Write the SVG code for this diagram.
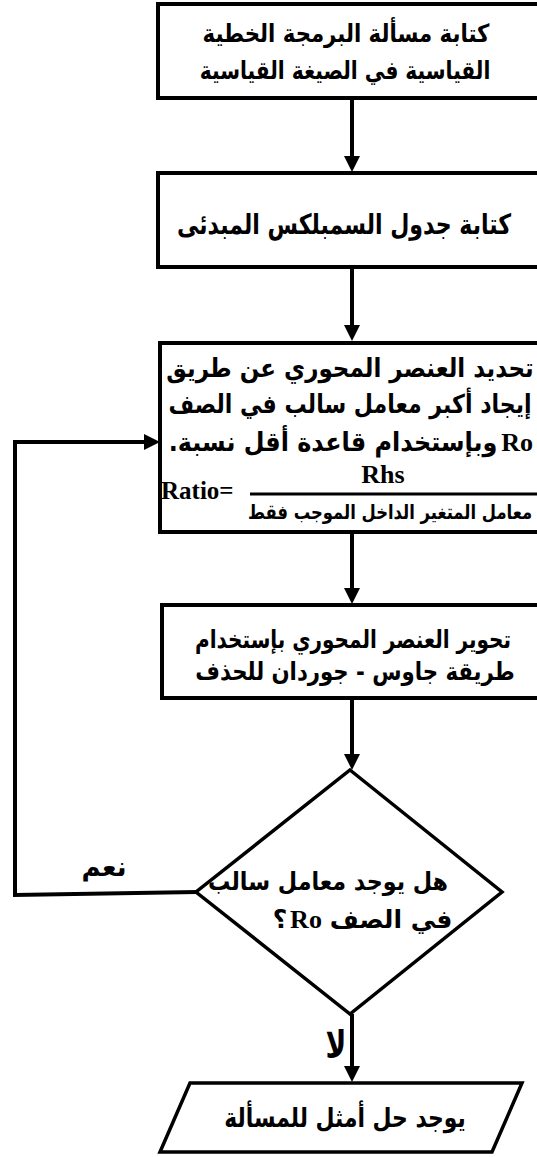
<svg xmlns="http://www.w3.org/2000/svg" width="537" height="1157" viewBox="0 0 537 1157">
<style>
.box{fill:#fff;stroke:#000;stroke-width:4}
.dia{fill:#fff;stroke:#000;stroke-width:3.5}
.ln{fill:none;stroke:#000;stroke-width:4}
.ah{fill:#000}
.ar{font-family:'DejaVu Sans','Noto Sans',sans-serif;font-weight:bold;fill:#000;direction:rtl;text-anchor:middle}
.lat{font-family:'Liberation Serif','Times New Roman',serif;font-weight:bold;fill:#000}
</style>
<rect width="537" height="1157" fill="#fff"/>
<g id="connectors">
<line class="ln" x1="352" y1="98" x2="352" y2="158"/>
<polygon class="ah" points="344,156 360,156 352,172"/>
<line class="ln" x1="352" y1="267" x2="352" y2="327"/>
<polygon class="ah" points="344,325 360,325 352,341"/>
<line class="ln" x1="352" y1="532" x2="352" y2="590"/>
<polygon class="ah" points="344,588 360,588 352,604"/>
<line class="ln" x1="352" y1="698" x2="352" y2="756"/>
<polygon class="ah" points="344,754 360,754 352,770"/>
<line class="ln" x1="352" y1="1014" x2="352" y2="1068"/>
<polygon class="ah" points="344,1066 360,1066 352,1082"/>
<polyline class="ln" points="197,892 15,895 15,442 146,442"/>
<polygon class="ah" points="144,434 144,450 160,442"/>
<text class="ar" x="104" y="876" font-size="26">نعم</text>
<text class="ar" transform="translate(336,1058) scale(1,1.35)" x="0" y="0" font-size="28">لا</text>
</g>
<g id="n1">
<rect class="box" x="158" y="4" width="450" height="94"/>
<text class="ar" transform="translate(346,42) scale(0.85,1)" x="0" y="0" font-size="25">كتابة مسألة البرمجة الخطية</text>
<text class="ar" transform="translate(345,79) scale(0.806,1)" x="0" y="0" font-size="25">القياسية في الصيغة القياسية</text>
</g>
<g id="n2">
<rect class="box" x="158" y="173" width="450" height="94"/>
<text class="ar" transform="translate(344,234) scale(0.788,1)" x="0" y="0" font-size="28">كتابة جدول السمبلكس المبدئى</text>
</g>
<g id="n3">
<rect class="box" x="160" y="343" width="450" height="189"/>
<text class="ar" transform="translate(350,377) scale(0.885,1)" x="0" y="0" font-size="26">تحديد العنصر المحوري عن طريق</text>
<text class="ar" transform="translate(350,413) scale(0.85,1)" x="0" y="0" font-size="26">إيجاد أكبر معامل سالب في الصف</text>
<text class="lat" x="533" y="451" font-size="26" text-anchor="end">Ro</text>
<text class="ar" transform="translate(333,451) scale(0.92,1)" x="0" y="0" font-size="26">وبإستخدام قاعدة أقل نسبة.</text>
<text class="lat" x="383" y="483" font-size="26" text-anchor="middle">Rhs</text>
<text class="lat" x="161" y="499" font-size="25">Ratio=</text>
<line x1="250" y1="494" x2="540" y2="494" stroke="#000" stroke-width="3"/>
<text class="ar" transform="translate(390,519) scale(0.82,1)" x="0" y="0" font-size="20">معامل المتغير الداخل الموجب فقط</text>
</g>
<g id="n4">
<rect class="box" x="162" y="605" width="450" height="93"/>
<text class="ar" transform="translate(353,648) scale(0.8,1)" x="0" y="0" font-size="25">تحوير العنصر المحوري بإستخدام</text>
<text class="ar" transform="translate(355,680) scale(0.85,1)" x="0" y="0" font-size="25">طريقة جاوس -  جوردان للحذف</text>
</g>
<g id="n5">
<polygon class="dia" points="350,770 502,892 350,1014 196,892"/>
<text class="ar" transform="translate(328,890) scale(0.89,1)" x="0" y="0" font-size="25">هل يوجد معامل سالب</text>
<text class="ar" x="391" y="928" font-size="25">في الصف</text>
<text class="lat" x="306" y="928" font-size="26" text-anchor="middle">Ro</text>
<text class="ar" x="280" y="928" font-size="25">؟</text>
</g>
<g id="n6">
<polygon class="dia" points="190,1083 522,1083 492,1152 160,1152"/>
<text class="ar" transform="translate(345,1127) scale(0.81,1)" x="0" y="0" font-size="27">يوجد حل أمثل للمسألة</text>
</g>
</svg>
